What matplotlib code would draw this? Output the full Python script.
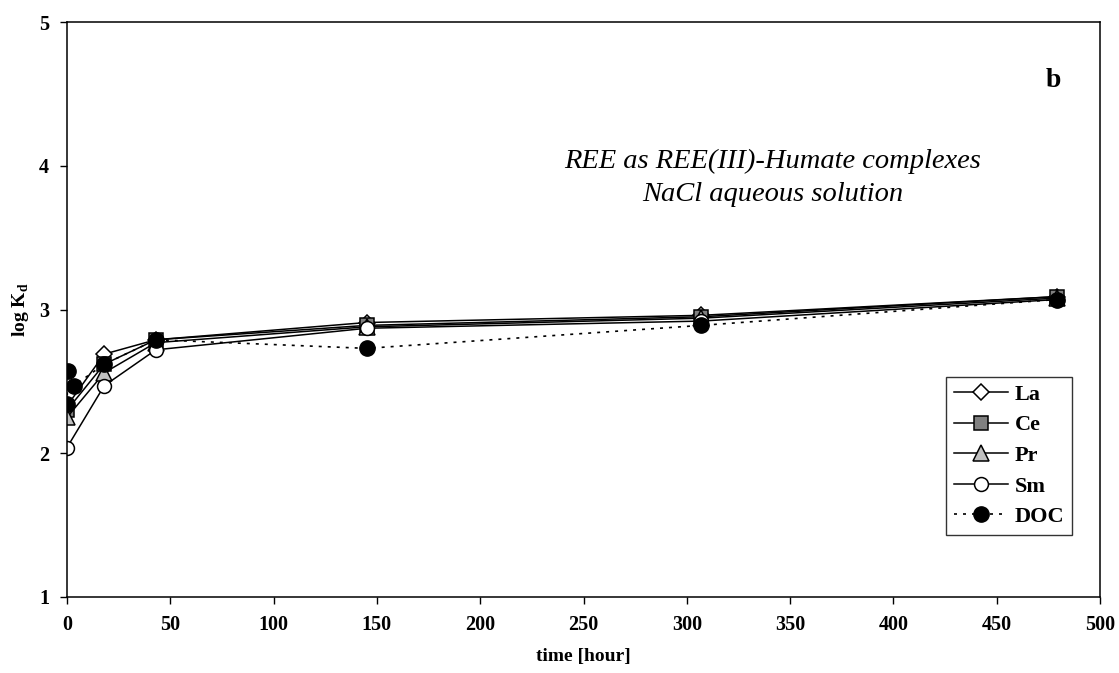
import matplotlib
matplotlib.use("Agg")
import matplotlib.pyplot as plt

time_ree = [0, 18, 43, 145, 307, 479]
la = [2.33, 2.69, 2.79, 2.91, 2.96, 3.09]
ce = [2.30, 2.62, 2.79, 2.89, 2.95, 3.09]
pr = [2.25, 2.56, 2.77, 2.88, 2.94, 3.08]
sm = [2.04, 2.47, 2.72, 2.87, 2.92, 3.07]
time_doc = [0, 0.4, 3.3, 18, 43, 145, 307, 479]
doc = [2.34, 2.57, 2.47, 2.62, 2.79, 2.73, 2.89, 3.07]

xticks = [0, 50, 100, 150, 200, 250, 300, 350, 400, 450, 500]
yticks = [1, 2, 3, 4, 5]

plt.rcParams['font.family'] = ['Liberation Serif', 'DejaVu Serif']
plt.rcParams['mathtext.fontset'] = 'custom'
plt.rcParams['mathtext.bf'] = 'Liberation Serif:bold'
plt.rcParams['mathtext.rm'] = 'Liberation Serif'

fig = plt.figure(figsize=(11.19, 6.73), dpi=100)
ax = fig.add_axes([0.0599, 0.113, 0.9231, 0.854])

lw = 1.1
ax.plot(time_ree, la, '-', color='black', lw=lw, marker='D', ms=8, mfc='white', mec='black', mew=1.1, label='La')
ax.plot(time_ree, ce, '-', color='black', lw=lw, marker='s', ms=10, mfc='#808080', mec='black', mew=1.1, label='Ce')
ax.plot(time_ree, pr, '-', color='black', lw=lw, marker='^', ms=11, mfc='#c0c0c0', mec='black', mew=1.1, label='Pr')
ax.plot(time_ree, sm, '-', color='black', lw=lw, marker='o', ms=10, mfc='white', mec='black', mew=1.1, label='Sm')
ax.plot(time_doc, doc, linestyle=(0, (1.8, 3.6)), color='black', lw=1.2, marker='o', ms=11, mfc='black', mec='black', label='DOC')

ax.set_xlim(0, 500)
ax.set_ylim(1, 5)
ax.set_xticks(xticks)
ax.set_yticks(yticks)
ax.tick_params(direction='out', length=5, width=1, labelsize=14.5, pad=8)
for lab in ax.get_xticklabels() + ax.get_yticklabels():
    lab.set_fontweight('bold')
for s in ax.spines.values():
    s.set_linewidth(1.1)

ax.set_xlabel('time [hour]', fontsize=14, fontweight='bold', labelpad=9)
ax.set_ylabel(r'log K$_\mathbf{d}$', fontsize=14, fontweight='bold', labelpad=6)

ax.text(0.683, 0.729, 'REE as REE(III)-Humate complexes\nNaCl aqueous solution',
        transform=ax.transAxes, ha='center', va='center', fontsize=20.5,
        fontstyle='italic', linespacing=1.38)
ax.text(0.955, 0.899, 'b', transform=ax.transAxes, ha='center', va='center',
        fontsize=20, fontweight='bold')

leg = ax.legend(loc='lower right', bbox_to_anchor=(0.973, 0.108), borderaxespad=0,
                frameon=True, fancybox=False, edgecolor='black', handlelength=2.45,
                handletextpad=0.3, labelspacing=0.45, borderpad=0.35,
                prop={'weight': 'bold', 'size': 16})
leg.get_frame().set_linewidth(1.0)

fig.savefig('out.png', dpi=100)
